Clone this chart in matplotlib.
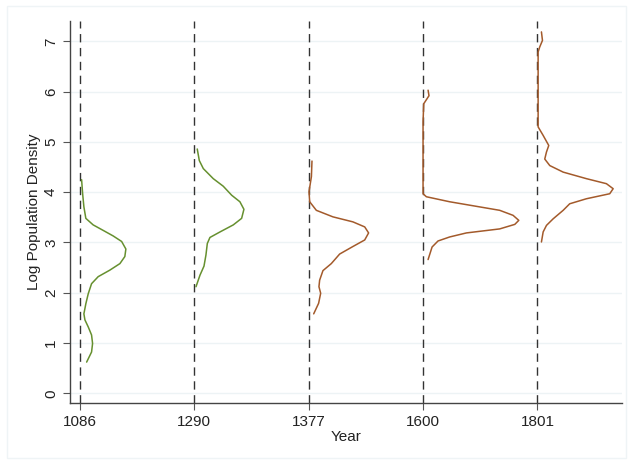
import matplotlib.pyplot as plt
from matplotlib.patches import Rectangle

plt.rcParams['font.family'] = ['Liberation Sans', 'DejaVu Sans']

years = ['1086', '1290', '1377', '1600', '1801']
colors = ['#66902f', '#66902f', '#a35a2b', '#a35a2b', '#a35a2b']

# density curves: log density (y) and half-width (in slot units)
y_1086 = [4.25, 3.97, 3.71, 3.48, 3.35, 3.24, 3.13, 3.02, 2.87, 2.72, 2.58, 2.45, 2.32, 2.18,
          1.98, 1.78, 1.58, 1.46, 1.32, 1.16, 0.99, 0.82, 0.62]
w_1086 = [0.015, 0.024, 0.035, 0.052, 0.116, 0.204, 0.291, 0.365, 0.402, 0.393, 0.350, 0.262, 0.160, 0.102,
          0.073, 0.052, 0.035, 0.044, 0.073, 0.102, 0.111, 0.102, 0.059]

y_1290 = [4.86, 4.63, 4.47, 4.27, 4.12, 3.94, 3.81, 3.66, 3.48, 3.35, 3.21, 3.10, 2.98, 2.75, 2.53, 2.35, 2.12]
w_1290 = [0.026, 0.044, 0.079, 0.166, 0.253, 0.327, 0.399, 0.434, 0.414, 0.341, 0.225, 0.137, 0.114, 0.102,
          0.085, 0.050, 0.015]

y_1377 = [4.62, 4.31, 4.01, 3.81, 3.64, 3.51, 3.41, 3.31, 3.19, 3.05, 2.92, 2.77, 2.58, 2.44, 2.25, 2.12,
          1.99, 1.79, 1.58]
w_1377 = [0.029, 0.024, 0.003, 0.009, 0.067, 0.212, 0.387, 0.490, 0.524, 0.490, 0.387, 0.271, 0.198, 0.125,
          0.096, 0.090, 0.105, 0.087, 0.044]

y_1600 = [6.03, 5.92, 5.76, 5.40, 3.97, 3.91, 3.81, 3.64, 3.54, 3.44, 3.36, 3.27, 3.19, 3.11, 3.03, 2.91, 2.66]
w_1600 = [0.044, 0.052, 0.006, 0.000, 0.000, 0.029, 0.233, 0.670, 0.787, 0.837, 0.802, 0.670, 0.379, 0.233,
          0.131, 0.079, 0.044]

y_1801 = [7.19, 7.02, 6.89, 6.79, 5.30, 5.13, 4.93, 4.80, 4.66, 4.53, 4.40, 4.27, 4.17, 4.07, 3.97, 3.87,
          3.77, 3.64, 3.47, 3.34, 3.21, 3.01]
w_1801 = [0.035, 0.044, 0.020, 0.006, 0.006, 0.050, 0.099, 0.079, 0.064, 0.108, 0.225, 0.428, 0.603, 0.662,
          0.632, 0.428, 0.282, 0.225, 0.137, 0.079, 0.050, 0.035]

curves = [(y_1086, w_1086), (y_1290, w_1290), (y_1377, w_1377), (y_1600, w_1600), (y_1801, w_1801)]

fig = plt.figure(figsize=(6.29, 4.63), dpi=100)
fig.patches.append(Rectangle((0.011, 0.01), 0.985, 0.978, transform=fig.transFigure,
                             fill=False, edgecolor='#eff4f6', linewidth=1))
ax = fig.add_axes([0.111, 0.13, 0.878, 0.825])

for y in range(8):
    ax.axhline(y, color='#edf3f5', linewidth=1, zorder=0)

for i, (ys, ws) in enumerate(curves):
    ax.axvline(i, color='#333333', linestyle=(0, (6, 4)), linewidth=1, zorder=1)
    ax.plot([i + w for w in ws], ys, color=colors[i], linewidth=1.1, zorder=2,
            solid_joinstyle='round', solid_capstyle='round')

ax.set_xlim(-0.088, 4.74)
ax.set_ylim(-0.19, 7.41)
ax.set_xticks(range(len(years)))
ax.set_xticklabels(years)
ax.set_yticks(range(8))
ax.set_yticklabels([str(v) for v in range(8)], rotation=90, va='center')
ax.tick_params(labelsize=11, colors='#222222', length=5, width=0.8)
ax.tick_params(axis='both', color='#555555')
for s in ['top', 'right']:
    ax.spines[s].set_visible(False)
for s in ['left', 'bottom']:
    ax.spines[s].set_color('#444444')
    ax.spines[s].set_linewidth(1)
ax.set_xlabel('Year', fontsize=11, color='#222222', labelpad=1)
ax.set_ylabel('Log Population Density', fontsize=11, color='#222222', labelpad=2)

fig.savefig('out.png', dpi=100)
